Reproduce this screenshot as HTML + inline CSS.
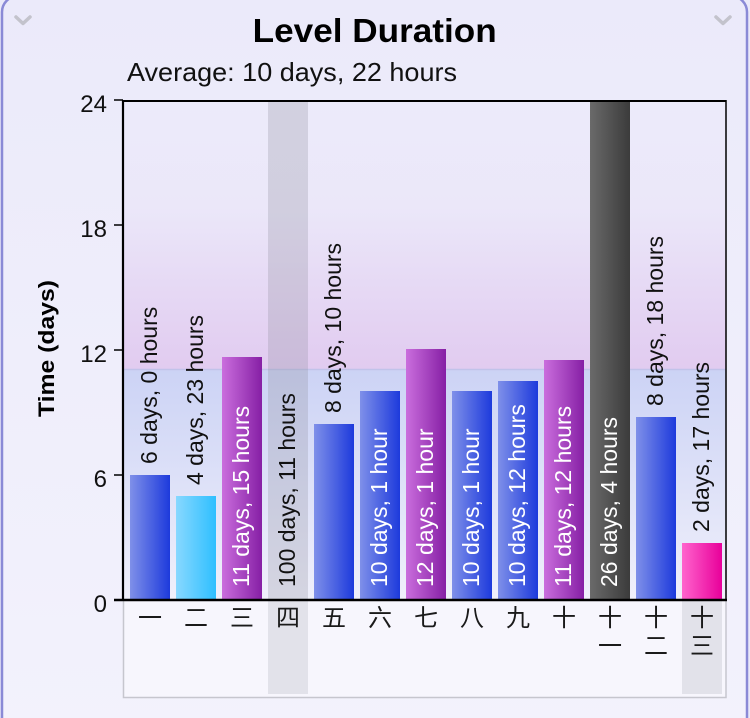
<!DOCTYPE html>
<html>
<head>
<meta charset="utf-8">
<style>
  html, body { margin:0; padding:0; width:750px; height:718px; overflow:hidden; background:#e9e8f8; }
  svg { display:block; }
  text { font-family: "Liberation Sans", Arial, sans-serif; }
  .cjk { font-family: "Liberation Sans", "Noto Sans CJK JP", "Noto Sans CJK SC", sans-serif; }
</style>
</head>
<body>
<svg width="750" height="718" viewBox="0 0 750 718" xmlns="http://www.w3.org/2000/svg">
  <defs>
    <linearGradient id="panelBg" x1="0" y1="0" x2="0" y2="1">
      <stop offset="0" stop-color="#ebeafa"/>
      <stop offset="1" stop-color="#f3f2fc"/>
    </linearGradient>
    <linearGradient id="topBand" x1="0" y1="0" x2="0" y2="1">
      <stop offset="0" stop-color="#ecebfa"/>
      <stop offset="0.4" stop-color="#ebe7f9"/>
      <stop offset="1" stop-color="#e1cbf0"/>
    </linearGradient>
    <linearGradient id="botBand" x1="0" y1="0" x2="0" y2="1">
      <stop offset="0" stop-color="#ccd3f5"/>
      <stop offset="1" stop-color="#f0f0fb"/>
    </linearGradient>
    <linearGradient id="gBlue" x1="0" y1="0" x2="1" y2="0">
      <stop offset="0" stop-color="#7f90e9"/>
      <stop offset="1" stop-color="#1d3adc"/>
    </linearGradient>
    <linearGradient id="gLight" x1="0" y1="0" x2="1" y2="0">
      <stop offset="0" stop-color="#88d8ff"/>
      <stop offset="1" stop-color="#2ebfff"/>
    </linearGradient>
    <linearGradient id="gPurple" x1="0" y1="0" x2="1" y2="0">
      <stop offset="0" stop-color="#ca6edd"/>
      <stop offset="1" stop-color="#861fa5"/>
    </linearGradient>
    <linearGradient id="gDark" x1="0" y1="0" x2="1" y2="0">
      <stop offset="0" stop-color="#6a6a6a"/>
      <stop offset="1" stop-color="#3b3b3b"/>
    </linearGradient>
    <linearGradient id="gPink" x1="0" y1="0" x2="1" y2="0">
      <stop offset="0" stop-color="#ff64cd"/>
      <stop offset="1" stop-color="#e8009a"/>
    </linearGradient>
  </defs>

  <!-- panel -->
  <rect x="0" y="0" width="750" height="718" fill="#eae9f9"/>
  <rect x="2" y="-4" width="745" height="740" rx="16" ry="16" fill="url(#panelBg)" stroke="#8a8ad6" stroke-width="2.5"/>

  <!-- chevrons -->
  <polyline points="16,17 23,23.5 30,17" fill="none" stroke="#c3c3cc" stroke-width="3.5" stroke-linecap="round" stroke-linejoin="round"/>
  <polyline points="716,17 723,23.5 730,17" fill="none" stroke="#c3c3cc" stroke-width="3.5" stroke-linecap="round" stroke-linejoin="round"/>

  <!-- title -->
  <text x="374.7" y="42" font-size="33" font-weight="bold" text-anchor="middle" textLength="244" lengthAdjust="spacingAndGlyphs" fill="#000">Level Duration</text>
  <text x="127" y="81" font-size="26" textLength="330" lengthAdjust="spacingAndGlyphs" fill="#111">Average: 10 days, 22 hours</text>

  <!-- plot background -->
  <rect x="123" y="100" width="603" height="270" fill="url(#topBand)"/>
  <rect x="123" y="370" width="603" height="230" fill="url(#botBand)"/>
  <line x1="123" y1="369.5" x2="726" y2="369.5" stroke="#c1c3ea" stroke-width="1.5"/>

  <!-- lower box -->
  <rect x="123.5" y="600" width="602.5" height="97.5" fill="#f7f6fd" stroke="#c6c6ce" stroke-width="1.5"/>

  <!-- gray columns -->
  <rect x="268" y="100" width="40" height="500" fill="rgb(140,140,155)" fill-opacity="0.27"/>
  <rect x="268" y="601" width="40" height="93" fill="#e2e2ea"/>
  <rect x="682" y="601" width="40" height="93" fill="#e2e2ea"/>

  <!-- bars -->
  <rect x="130" y="475" width="40" height="125" fill="url(#gBlue)"/>
  <rect x="176" y="496" width="40" height="104" fill="url(#gLight)"/>
  <rect x="222" y="357" width="40" height="243" fill="url(#gPurple)"/>
  <rect x="314" y="424" width="40" height="176" fill="url(#gBlue)"/>
  <rect x="360" y="391" width="40" height="209" fill="url(#gBlue)"/>
  <rect x="406" y="349" width="40" height="251" fill="url(#gPurple)"/>
  <rect x="452" y="391" width="40" height="209" fill="url(#gBlue)"/>
  <rect x="498" y="381" width="40" height="219" fill="url(#gBlue)"/>
  <rect x="544" y="360" width="40" height="240" fill="url(#gPurple)"/>
  <rect x="590" y="100" width="40" height="500" fill="url(#gDark)"/>
  <rect x="636" y="417" width="40" height="183" fill="url(#gBlue)"/>
  <rect x="682" y="543" width="40" height="57" fill="url(#gPink)"/>

  <!-- bar labels -->
  <g font-size="23">
    <text x="157" y="464" transform="rotate(-90 157 464)" fill="#111">6 days, 0 hours</text>
    <text x="203" y="485" transform="rotate(-90 203 485)" fill="#111">4 days, 23 hours</text>
    <text x="249" y="587" transform="rotate(-90 249 587)" fill="#fff">11 days, 15 hours</text>
    <text x="295" y="587" transform="rotate(-90 295 587)" fill="#111">100 days, 11 hours</text>
    <text x="341" y="413" transform="rotate(-90 341 413)" fill="#111">8 days, 10 hours</text>
    <text x="387" y="587" transform="rotate(-90 387 587)" fill="#fff">10 days, 1 hour</text>
    <text x="433" y="587" transform="rotate(-90 433 587)" fill="#fff">12 days, 1 hour</text>
    <text x="479" y="587" transform="rotate(-90 479 587)" fill="#fff">10 days, 1 hour</text>
    <text x="525" y="587" transform="rotate(-90 525 587)" fill="#fff">10 days, 12 hours</text>
    <text x="571" y="587" transform="rotate(-90 571 587)" fill="#fff">11 days, 12 hours</text>
    <text x="617" y="587" transform="rotate(-90 617 587)" fill="#fff">26 days, 4 hours</text>
    <text x="663" y="406" transform="rotate(-90 663 406)" fill="#111">8 days, 18 hours</text>
    <text x="709" y="532" transform="rotate(-90 709 532)" fill="#111">2 days, 17 hours</text>
  </g>

  <!-- axes -->
  <line x1="123" y1="101" x2="726" y2="101" stroke="#000" stroke-width="2"/>
  <line x1="726" y1="100" x2="726" y2="600" stroke="#000" stroke-width="1.5"/>
  <line x1="123" y1="100" x2="123" y2="601" stroke="#000" stroke-width="2.2"/>
  <line x1="114" y1="600" x2="727" y2="600" stroke="#000" stroke-width="2.5"/>
  <g stroke="#000" stroke-width="1.5">
    <line x1="114" y1="100" x2="123" y2="100"/>
    <line x1="114" y1="225" x2="123" y2="225"/>
    <line x1="114" y1="350" x2="123" y2="350"/>
    <line x1="114" y1="475" x2="123" y2="475"/>
  </g>

  <!-- y tick labels -->
  <g font-size="24" text-anchor="end" fill="#111">
    <text x="107" y="112">24</text>
    <text x="107" y="237">18</text>
    <text x="107" y="362">12</text>
    <text x="107" y="487">6</text>
    <text x="107" y="612">0</text>
  </g>

  <!-- y axis title -->
  <text x="54" y="348.5" transform="rotate(-90 54 348.5)" font-size="22" font-weight="bold" text-anchor="middle" textLength="137" lengthAdjust="spacingAndGlyphs" fill="#000">Time (days)</text>

  <!-- x labels -->
  <g class="cjk" font-size="24" text-anchor="middle" fill="#1a1a1a">
    <text x="150" y="626">一</text>
    <text x="196" y="626">二</text>
    <text x="242" y="626">三</text>
    <text x="288" y="626">四</text>
    <text x="334" y="626">五</text>
    <text x="380" y="626">六</text>
    <text x="426" y="626">七</text>
    <text x="472" y="626">八</text>
    <text x="518" y="626">九</text>
    <text x="564" y="626">十</text>
    <text x="610" y="626">十</text>
    <text x="610" y="654">一</text>
    <text x="656" y="626">十</text>
    <text x="656" y="654">二</text>
    <text x="702" y="626">十</text>
    <text x="702" y="654">三</text>
  </g>
</svg>
</body>
</html>
